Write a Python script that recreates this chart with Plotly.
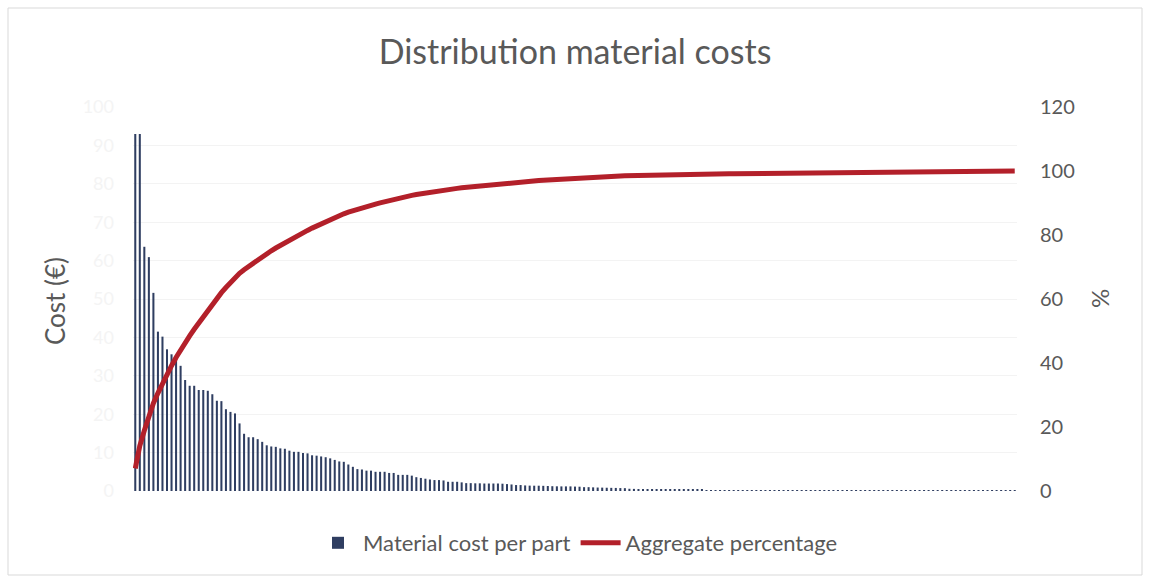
import numpy as np
import plotly.graph_objects as go

# Material cost per part (EUR), sorted descending, one value per part
cost_head = [93, 93, 63.6, 60.9, 51.6, 41.5, 40.2, 36.9, 35.6, 34.1,
             32.6, 28.9, 27.4, 27.4, 26.3, 26.3, 26.1, 25.2, 23.5, 23.4,
             21.3, 20.6, 20.2, 17.6, 14.9, 14.0, 14.0, 13.5, 12.8]
cost_mid = [11.9, 11.6, 11.5, 11.1, 11.0, 10.5, 10.2, 10.2, 9.9, 9.8,
            9.3, 9.2, 9.0, 8.8, 8.5, 8.1, 7.7, 7.6, 6.9, 6.3,
            5.7, 5.6, 5.3, 5.3, 5.0, 5.0, 5.0, 4.7, 4.7, 4.2,
            4.2, 4.2, 4.0, 3.6, 3.4]
cost_low = [3.2, 3.0, 2.85, 2.85, 2.75, 2.4, 2.4, 2.4, 2.25, 2.05,
            2.05, 2.0, 2.0, 1.95, 1.95, 1.95, 1.95, 1.9, 1.8, 1.7,
            1.55, 1.55, 1.45, 1.4, 1.38, 1.38, 1.35, 1.3, 1.25, 1.22,
            1.2, 1.2, 1.2, 1.15, 1.12, 1.0, 1.0, 0.95,
            0.9, 0.88, 0.85, 0.82, 0.8, 0.76, 0.74,
            0.58, 0.55, 0.52, 0.5, 0.48, 0.46, 0.44, 0.42,
            0.34, 0.33, 0.32, 0.31, 0.3, 0.3, 0.29, 0.28, 0.28]
cost_tail = [0.26, 0.26, 0.25, 0.25, 0.25, 0.24, 0.24, 0.24, 0.24, 0.23,
             0.23, 0.23, 0.22, 0.22, 0.22, 0.22, 0.21, 0.21, 0.21, 0.21,
             0.2, 0.2, 0.2, 0.2, 0.2, 0.2, 0.19, 0.19, 0.19, 0.19,
             0.19, 0.19, 0.18, 0.18, 0.18, 0.18, 0.18, 0.18, 0.18, 0.17,
             0.17, 0.17, 0.17, 0.17, 0.17, 0.17, 0.16, 0.16, 0.16, 0.16,
             0.16, 0.16, 0.16, 0.16, 0.15, 0.15, 0.15, 0.15, 0.15, 0.15,
             0.15, 0.15, 0.15, 0.15, 0.15, 0.15, 0.15, 0.15, 0.15]

cost = np.array(cost_head + cost_mid + cost_low + cost_tail)
parts = list(range(1, len(cost) + 1))
aggregate_pct = np.cumsum(cost) / cost.sum() * 100

cost_ticks = [0, 10, 20, 30, 40, 50, 60, 70, 80, 90, 100]
pct_ticks = [0, 20, 40, 60, 80, 100, 120]

FONT = "Lato"
GREY = "#595959"
BAR = "#2F3E61"
RED = "#B3202A"

fig = go.Figure()
fig.add_trace(go.Bar(x=parts, y=cost, name="Material cost per part",
                     marker=dict(color=BAR, line=dict(width=0)), yaxis="y"))
fig.add_trace(go.Scatter(x=parts, y=aggregate_pct, name="Aggregate percentage",
                         mode="lines", line=dict(color=RED, width=5),
                         yaxis="y2"))

# plot area: x 133..1017, y 107..491
L, R, T, B = 133, 133, 107, 86
W, H = 1150, 577
pw, ph = W - L - R, H - T - B

def px_x(x):
    return (x - L) / pw

def px_y(y):
    return (H - B - y) / ph

fig.update_layout(
    width=W, height=H,
    margin=dict(l=L, r=R, t=T, b=B),
    paper_bgcolor="white", plot_bgcolor="white",
    font=dict(family=FONT, color=GREY, size=19),
    title=dict(text="Distribution material costs", x=0.5, xanchor="center",
               y=1 - 52 / H, yanchor="middle",
               font=dict(family=FONT, size=34, color=GREY)),
    bargap=0.55,
    showlegend=True,
    legend=dict(orientation="h", x=px_x(578), xanchor="center",
                y=px_y(543), yanchor="middle",
                font=dict(family=FONT, size=22, color=GREY),
                itemwidth=40, traceorder="normal"),
    xaxis=dict(range=[0.5, len(cost) + 0.5], showticklabels=False,
               showgrid=False, zeroline=False, showline=False, ticks=""),
    yaxis=dict(range=[0, 100], tickvals=cost_ticks, showgrid=True,
               gridcolor="#F3F3F3", gridwidth=1, zeroline=False,
               showline=False, ticks="", ticklabelstandoff=18,
               tickfont=dict(color="#F4F4F4", size=18, family=FONT)),
    yaxis2=dict(range=[0, 120], tickvals=pct_ticks, overlaying="y",
                side="right", showgrid=False, zeroline=False,
                showline=False, ticks="", ticklabelstandoff=22,
                tickfont=dict(color=GREY, size=20, family=FONT)),
    annotations=[
        dict(text="Cost (€)", xref="paper", yref="paper",
             x=px_x(55), y=px_y(301), textangle=-90, showarrow=False,
             xanchor="center", yanchor="middle",
             font=dict(family=FONT, size=26, color=GREY)),
        dict(text="%", xref="paper", yref="paper",
             x=px_x(1099), y=px_y(299), textangle=-90, showarrow=False,
             xanchor="center", yanchor="middle",
             font=dict(family=FONT, size=24, color=GREY)),
    ],
    shapes=[dict(type="rect", xref="paper", yref="paper",
                 x0=px_x(8), x1=px_x(1142), y0=px_y(575), y1=px_y(8),
                 line=dict(color="#D9D9D9", width=1), layer="below")],
)

fig.write_html("out.html")
